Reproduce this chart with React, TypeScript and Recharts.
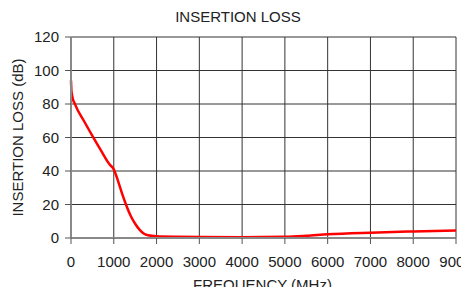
import React from "react";
import { LineChart, Line, XAxis, YAxis, CartesianGrid, Label } from "recharts";

// frequency (MHz) and insertion loss (dB)
const freqs = [
  0, 10, 30, 100, 300, 500, 700, 900, 1000, 1100, 1200, 1300, 1400, 1500, 1600,
  1700, 1800, 2000, 2500, 3000, 4000, 5000, 5500, 6000, 7000, 8000, 9000,
];
const loss = [
  94, 88, 84.5, 79.5, 70, 61, 52.3, 44, 41, 34, 26, 19, 13, 8.5, 5, 2.7, 1.6,
  1.0, 0.7, 0.6, 0.5, 0.7, 1.3, 2.2, 3.2, 3.9, 4.5,
];
const xTicks = [0, 1000, 2000, 3000, 4000, 5000, 6000, 7000, 8000, 9000];
const yTicks = [0, 20, 40, 60, 80, 100, 120];

const data = freqs.map((f, i) => ({ f, loss: loss[i] }));

const font = "'Liberation Sans', Arial, sans-serif";
const textColor = "#222";

export default function App() {
  return (
    <div
      style={{
        position: "absolute",
        left: 0,
        top: 0,
        width: 461,
        height: 287,
        overflow: "hidden",
        background: "#fff",
        fontFamily: font,
      }}
    >
      <div
        style={{
          position: "absolute",
          top: 8,
          left: 0,
          width: 476,
          textAlign: "center",
          fontSize: 15,
          lineHeight: "17px",
          color: textColor,
        }}
      >
        INSERTION LOSS
      </div>
      <LineChart
        width={461}
        height={287}
        data={data}
        margin={{ top: 37, right: 5, left: 0, bottom: 0 }}
      >
        <CartesianGrid stroke="#333" strokeWidth={1} />
        <XAxis
          dataKey="f"
          type="number"
          domain={[0, 9000]}
          ticks={xTicks}
          interval={0}
          height={49}
          tickSize={6}
          tickMargin={12}
          axisLine={{ stroke: "#888", strokeWidth: 2 }}
          tickLine={{ stroke: "#555" }}
          tick={{ fill: textColor, fontSize: 15, fontFamily: font }}
        />
        <YAxis
          type="number"
          domain={[0, 120]}
          ticks={yTicks}
          interval={0}
          width={71}
          tickSize={6}
          tickMargin={6}
          axisLine={{ stroke: "#888", strokeWidth: 2 }}
          tickLine={{ stroke: "#555" }}
          tick={{ fill: textColor, fontSize: 15, fontFamily: font }}
        >
          <Label
            value="INSERTION LOSS (dB)"
            angle={-90}
            position="insideLeft"
            offset={18}
            style={{ textAnchor: "middle", fill: textColor, fontSize: 15, fontFamily: font }}
          />
        </YAxis>
        <Line
          type="monotone"
          dataKey="loss"
          stroke="#ff0000"
          strokeWidth={2.5}
          dot={false}
          isAnimationActive={false}
        />
      </LineChart>
      <div
        style={{
          position: "absolute",
          top: 276,
          left: 0,
          width: 525,
          textAlign: "center",
          fontSize: 15,
          lineHeight: "17px",
          color: textColor,
        }}
      >
        FREQUENCY (MHz)
      </div>
    </div>
  );
}
